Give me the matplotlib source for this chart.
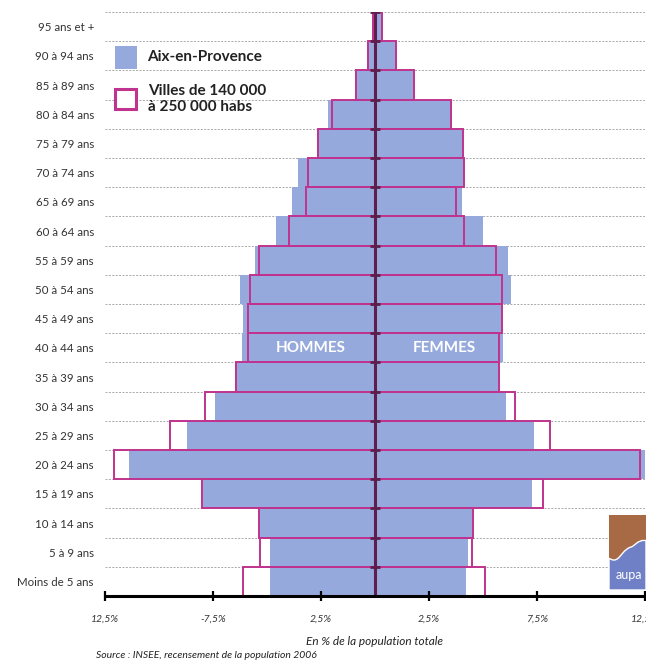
import numpy as np
import matplotlib
matplotlib.use("Agg")
import matplotlib.pyplot as plt
from matplotlib.patches import Rectangle, Polygon

plt.rcParams['font.family'] = ['Lato', 'DejaVu Sans']

# tranches d'age, du bas vers le haut
ages = ["Moins de 5 ans", "5 à 9 ans", "10 à 14 ans", "15 à 19 ans", "20 à 24 ans",
        "25 à 29 ans", "30 à 34 ans", "35 à 39 ans", "40 à 44 ans", "45 à 49 ans",
        "50 à 54 ans", "55 à 59 ans", "60 à 64 ans", "65 à 69 ans", "70 à 74 ans",
        "75 à 79 ans", "80 à 84 ans", "85 à 89 ans", "90 à 94 ans", "95 ans et +"]

aix_hommes = [4.85, 4.84, 5.38, 7.98, 11.37, 8.69, 7.43, 6.46, 6.15, 6.09,
              6.23, 5.56, 4.57, 3.84, 3.57, 2.70, 2.18, 0.92, 0.36, 0.15]
aix_femmes = [4.19, 4.30, 4.53, 7.28, 12.48, 7.38, 6.07, 5.76, 5.92, 5.87,
              6.31, 6.15, 4.99, 4.02, 4.14, 4.07, 3.53, 1.80, 0.95, 0.36]
villes_hommes = [6.12, 5.31, 5.38, 8.00, 12.09, 9.47, 7.89, 6.43, 5.87, 5.87,
                 5.78, 5.38, 3.96, 3.20, 3.08, 2.64, 1.98, 0.90, 0.32, 0.10]
villes_femmes = [5.10, 4.48, 4.56, 7.80, 12.28, 8.11, 6.49, 5.72, 5.76, 5.87,
                 5.87, 5.61, 4.11, 3.73, 4.14, 4.07, 3.53, 1.80, 0.95, 0.33]

xticks = [-12.5, -7.5, -2.5, 2.5, 7.5, 12.5]
xticklabels = ["12,5%", "-7,5%", "2,5%", "2,5%", "7,5%", "12,5%"]

bleu = "#95a9dc"
magenta = "#c0338e"
violet = "#5e1d4c"

fig = plt.figure(figsize=(6.46, 6.62), dpi=100)
ax = fig.add_axes([105 / 646, 1 - 596 / 662, 540 / 646, 584 / 662])

y = np.arange(len(ages))

# grille pointillee entre les tranches
for b in np.arange(0.5, len(ages), 1.0):
    ax.axhline(b, color="#a8a8a8", lw=0.7, ls=(0, (2, 1.5)), zorder=0)

ax.barh(y, -np.array(aix_hommes), height=1.0, color=bleu, zorder=1)
ax.barh(y, aix_femmes, height=1.0, color=bleu, zorder=1)
ax.barh(y, -np.array(villes_hommes), height=1.0, facecolor="none",
        edgecolor=magenta, lw=1.4, zorder=2)
ax.barh(y, villes_femmes, height=1.0, facecolor="none",
        edgecolor=magenta, lw=1.4, zorder=2)

ax.axvline(0, color=violet, lw=2.2, zorder=3)
ax.plot(np.zeros(len(ages)), np.arange(0.5, len(ages), 1.0), ls="none",
        marker="_", ms=7, mew=2, color=violet, zorder=4)

ax.set_xlim(-12.5, 12.5)
ax.set_ylim(-0.5, len(ages) - 0.5)

for s in ["top", "right", "left"]:
    ax.spines[s].set_visible(False)
ax.spines["bottom"].set_linewidth(2.2)
ax.spines["bottom"].set_color("black")
ax.spines["bottom"].set_zorder(5)

ax.set_yticks(y)
ax.set_yticklabels(ages, fontsize=8.3, color="#333333")
ax.tick_params(axis="y", length=0, pad=8)

ax.set_xticks(xticks)
ax.set_xticklabels(xticklabels, fontsize=7.5, style="italic", color="#333333")
ax.tick_params(axis="x", direction="inout", length=7, width=1.6, pad=10)

ax.text(0, -2.05, "En % de la population totale", ha="center", va="center",
        fontsize=8.5, style="italic", color="#222222")
fig.text(96 / 646, 1 - 655 / 662, "Source : INSEE, recensement de la population 2006",
         ha="left", va="center", fontsize=7.5, style="italic", color="#222222")

ax.text(-3.0, 8, "HOMMES", ha="center", va="center", color="white",
        fontsize=11, fontweight="bold", zorder=6)
ax.text(3.2, 8, "FEMMES", ha="center", va="center", color="white",
        fontsize=11, fontweight="bold", zorder=6)

# legende
fig.patches.append(Rectangle((115 / 646, 1 - 69 / 662), 22 / 646, 23 / 662,
                             transform=fig.transFigure, facecolor=bleu, edgecolor="none"))
fig.text(147 / 646, 1 - 57 / 662, "Aix-en-Provence", ha="left", va="center",
         fontsize=11, fontweight="bold", color="#222222")
fig.patches.append(Rectangle((115 / 646, 1 - 109 / 662), 21 / 646, 20 / 662,
                             transform=fig.transFigure, facecolor="white",
                             edgecolor=magenta, lw=2.2))
fig.text(148 / 646, 1 - 99 / 662, "Villes de 140 000\nà 250 000 habs", ha="left",
         va="center", fontsize=11, fontweight="bold", color="#222222",
         linespacing=1.1)

# petit logo aupa
lx = fig.add_axes([609 / 646, 1 - 590 / 662, 37 / 646, 75 / 662])
lx.set_xlim(0, 1)
lx.set_ylim(0, 1)
lx.axis("off")
lx.add_patch(Rectangle((0, 0), 1, 1, facecolor="#a86a45"))
xs = np.linspace(0, 1, 20)
wave = [0.42, 0.41, 0.40, 0.40, 0.41, 0.43, 0.46, 0.49, 0.52, 0.54,
        0.56, 0.57, 0.58, 0.60, 0.62, 0.64, 0.65, 0.66, 0.66, 0.66]
lx.add_patch(Polygon(list(zip(xs, wave)) + [(1, 0), (0, 0)], closed=True,
                     facecolor="#6f80c6", edgecolor="white", lw=1))
lx.text(0.55, 0.2, "aupa", ha="center", va="center", color="white", fontsize=9)

fig.savefig("out.png", dpi=100)
